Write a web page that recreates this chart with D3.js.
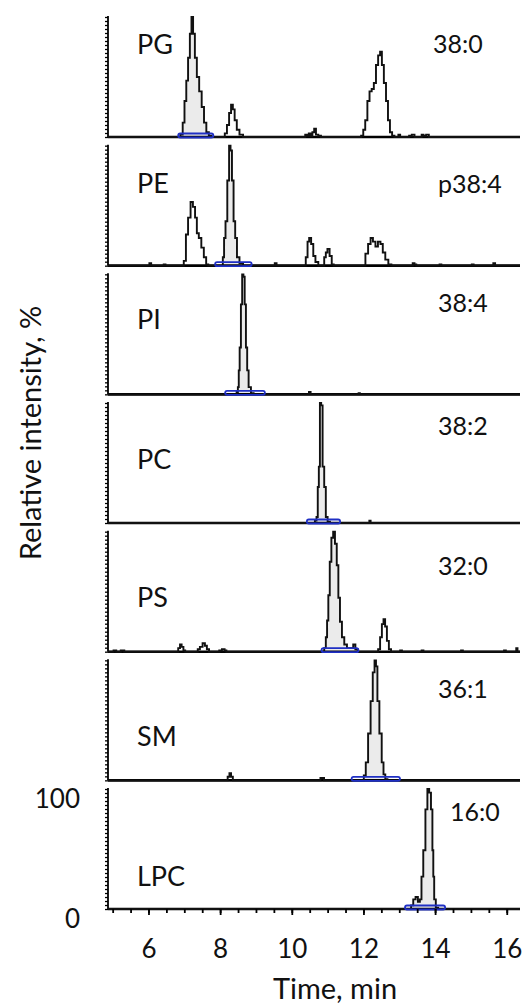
<!DOCTYPE html>
<html>
<head>
<meta charset="utf-8">
<script src="https://cdn.jsdelivr.net/npm/d3@7"></script>
<style>
  html, body { margin: 0; padding: 0; background: #fff; }
  svg { display: block; font-family: "Lato", "Open Sans", sans-serif; }
</style>
</head>
<body>
<svg id="chart"></svg>
<script>
// lipid classes and the molecular species shown in each panel
const classes = ["PG", "PE", "PI", "PC", "PS", "SM", "LPC"];
const species = ["38:0", "p38:4", "38:4", "38:2", "32:0", "36:1", "16:0"];
const xTicks = [6, 8, 10, 12, 14, 16];
const yTickLabels = [0, 100];

// integration windows (min), drawn as blue bars + grey fill
const integration = [
    [6.83, 7.81], [7.86, 8.88], [8.14, 9.25], [10.42, 11.35],
    [10.83, 11.86], [11.67, 13.02], [13.16, 14.28]
];

// [time, relative intensity %]
const tracePG = [
    [6.85,0],[6.93,2],[6.98,12],[7.03,30],[7.08,47],[7.13,66],[7.18,86],[7.22,100],[7.27,86],[7.32,66],[7.38,50],[7.45,38],[7.52,25],[7.58,12],[7.65,4],[7.72,1],[7.8,0],
    [8.1,0],[8.16,3],[8.22,10],[8.28,20],[8.33,27],[8.38,23],[8.43,14],[8.5,6],[8.58,2],[8.7,0],
    [10.35,0],[10.4,2],[10.45,1],[10.5,3],[10.55,1],[10.6,4],[10.65,7],[10.7,2],[10.78,1],[10.85,0],
    [11.9,0],[11.97,1],[12.02,6],[12.08,14],[12.14,30],[12.2,38],[12.26,40],[12.32,45],[12.38,60],[12.44,68],[12.49,71],[12.54,60],[12.6,45],[12.66,30],[12.71,14],[12.77,4],[12.83,1],[12.9,0],
    [12.95,0],[13.0,2],[13.05,0],[13.25,0],[13.3,1],[13.4,2],[13.45,0],[13.6,0],[13.65,2],[13.7,1],[13.8,2],[13.85,0]
];
const tracePE = [
    [6.0,0],[6.05,2],[6.1,0],[6.4,0],[6.45,1],[6.5,0],
    [6.95,0],[7.02,4],[7.07,26],[7.14,40],[7.21,53],[7.27,49],[7.33,40],[7.37,27],[7.44,23],[7.51,15],[7.58,7],[7.64,1],[7.7,0],
    [8.06,0],[8.09,7],[8.13,23],[8.17,37],[8.23,71],[8.27,100],[8.31,96],[8.35,71],[8.4,37],[8.44,23],[8.5,7],[8.58,2],[8.7,0],
    [9.5,0],[9.55,2],[9.6,0],
    [10.36,0],[10.42,7],[10.46,20],[10.51,23],[10.57,18],[10.63,8],[10.69,3],[10.79,0],
    [10.88,0],[10.93,7],[10.97,11],[11.02,14],[11.09,8],[11.14,1],[11.2,0],
    [12.02,0],[12.09,10],[12.17,18],[12.23,23],[12.3,20],[12.37,16],[12.44,20],[12.51,18],[12.57,11],[12.65,5],[12.74,1],[12.82,0],
    [13.35,0],[13.4,2],[13.45,1],[13.5,0],[14.1,0],[14.15,1],[14.2,0],[15.0,0],[15.05,1],[15.1,0],[15.6,0],[15.65,2],[15.7,0]
];
const tracePI = [
    [8.44,0],[8.48,2],[8.51,6],[8.53,20],[8.56,39],[8.6,75],[8.63,100],[8.67,98],[8.7,75],[8.74,39],[8.77,20],[8.82,6],[8.9,1],[8.97,0],
    [10.46,0],[10.5,2],[10.55,0],[11.85,0],[11.88,1],[11.92,0]
];
const tracePC = [
    [10.62,0],[10.67,2],[10.71,5],[10.74,30],[10.77,47],[10.8,100],[10.84,98],[10.88,47],[10.93,30],[10.97,5],[11.03,1],[11.1,0],
    [12.15,0],[12.18,2],[12.22,0]
];
const tracePS = [
    [5.0,0],[5.05,1],[5.15,0],[5.3,1],[5.35,0],
    [6.8,0],[6.86,3],[6.9,6],[6.95,4],[7.0,1],[7.05,0],
    [7.35,0],[7.4,2],[7.47,4],[7.55,7],[7.6,5],[7.66,2],[7.72,0],
    [7.95,0],[8.0,1],[8.1,2],[8.15,1],[8.2,0],
    [10.88,0],[10.93,3],[10.97,12],[11.0,26],[11.04,47],[11.08,75],[11.13,95],[11.18,100],[11.23,90],[11.28,72],[11.32,45],[11.37,25],[11.43,12],[11.5,6],[11.58,3],[11.68,3],[11.75,6],[11.8,2],[11.88,0],
    [12.38,0],[12.44,2],[12.49,12],[12.54,23],[12.58,27],[12.63,21],[12.68,9],[12.74,2],[12.8,0],
    [13.0,0],[13.05,1],[13.1,0],[13.6,0],[13.65,1],[13.7,0],[14.7,0],[14.75,1],[14.8,0],[15.9,0],[15.95,1],[16.0,0],[16.25,0],[16.28,3],[16.32,0]
];
const traceSM = [
    [8.18,0],[8.24,3],[8.28,6],[8.33,3],[8.38,0],
    [10.78,0],[10.82,2],[10.88,2],[10.92,0],
    [11.98,0],[12.04,4],[12.09,15],[12.17,39],[12.23,66],[12.29,90],[12.33,100],[12.37,95],[12.41,66],[12.48,39],[12.54,15],[12.58,5],[12.64,1],[12.7,0]
];
const traceLPC = [
    [13.3,0],[13.36,3],[13.42,8],[13.49,10],[13.55,6],[13.6,8],[13.64,27],[13.7,49],[13.76,83],[13.81,100],[13.86,97],[13.91,83],[13.94,49],[13.96,27],[13.99,8],[14.05,1],[14.12,0]
];
const traces = [tracePG, tracePE, tracePI, tracePC, tracePS, traceSM, traceLPC];

// ---- layout ----
const width = 525, height = 1006;
const firstBase = 137, panelStep = 128.67, plotH = 120;
// label offsets relative to each panel baseline
const labelLayout = [
    { nameDy: -94, specDy: -94, specX: 433 },
    { nameDy: -83, specDy: -83, specX: 438 },
    { nameDy: -76, specDy: -92, specX: 438 },
    { nameDy: -65, specDy: -98, specX: 438 },
    { nameDy: -55, specDy: -87, specX: 438 },
    { nameDy: -45, specDy: -92, specX: 438 },
    { nameDy: -34, specDy: -98, specX: 450 }
];

const svg = d3.select("#chart").attr("width", width).attr("height", height);
svg.append("rect").attr("width", width).attr("height", height).attr("fill", "#fff");

const x = d3.scaleLinear().domain([4.87, 16.37]).range([108, 520]);
const [t0, t1] = x.domain();

traces.forEach((trace, i) => {
    const base = firstBase + i * panelStep;
    const y = d3.scaleLinear().domain([0, 100]).range([base, base - plotH]);
    const g = svg.append("g").attr("class", "panel");
    const pts = [[t0, 0], ...trace, [t1, 0]];

    const line = d3.line().x(d => x(d[0])).y(d => y(d[1])).curve(d3.curveStep);
    const area = d3.area().x(d => x(d[0])).y0(y(0)).y1(d => y(d[1])).curve(d3.curveStep);

    // grey fill of the integrated peak
    const clipId = "clip" + i;
    const [a, b] = integration[i];
    svg.append("clipPath").attr("id", clipId)
        .append("rect")
        .attr("x", x(a)).attr("width", x(b) - x(a))
        .attr("y", y(100) - 10).attr("height", plotH + 10);
    g.append("path").datum(pts)
        .attr("clip-path", `url(#${clipId})`)
        .attr("fill", "#ebebeb")
        .attr("d", area);

    // y axis with dense minor ticks
    const yAxis = d3.axisLeft(y)
        .tickValues(d3.range(0, 100.01, 100 / 30))
        .tickSize(3).tickSizeOuter(0).tickFormat("");
    const ya = g.append("g").attr("transform", `translate(${x.range()[0]},0)`).call(yAxis);
    ya.select(".domain").attr("stroke-width", 1.8).attr("d", `M0,${base - plotH - 1}V${base}`);
    ya.selectAll(".tick line").attr("stroke-width", 1.3);

    // baseline
    g.append("line")
        .attr("x1", x.range()[0]).attr("x2", x.range()[1])
        .attr("y1", base).attr("y2", base)
        .attr("stroke", "#000").attr("stroke-width", 2.6);

    // chromatogram trace
    g.append("path").datum(pts)
        .attr("fill", "none")
        .attr("stroke", "#111")
        .attr("stroke-width", 1.9)
        .attr("d", line);

    // integration bar
    g.append("rect")
        .attr("x", x(a)).attr("y", base - 3.5)
        .attr("width", x(b) - x(a)).attr("height", 4)
        .attr("rx", 2)
        .attr("fill", "none")
        .attr("stroke", "#1f2fc4")
        .attr("stroke-width", 1.8);

    // labels
    const lay = labelLayout[i];
    g.append("text")
        .attr("x", 137).attr("y", base + lay.nameDy)
        .attr("dominant-baseline", "central")
        .attr("font-size", 27).attr("fill", "#111")
        .text(classes[i]);
    g.append("text")
        .attr("x", lay.specX).attr("y", base + lay.specDy)
        .attr("dominant-baseline", "central")
        .attr("font-size", 25).attr("fill", "#111")
        .text(species[i]);

    // bottom panel gets the numbered axes
    if (i === traces.length - 1) {
        const minor = d3.axisBottom(x)
            .tickValues(d3.range(5, 16.01, 0.5))
            .tickSize(4).tickSizeOuter(0).tickFormat("");
        const xm = g.append("g").attr("transform", `translate(0,${base})`).call(minor);
        xm.select(".domain").remove();
        xm.selectAll(".tick line").attr("stroke-width", 1.8);

        const major = d3.axisBottom(x)
            .tickValues(xTicks)
            .tickSize(6).tickSizeOuter(0).tickPadding(25);
        const xM = g.append("g").attr("transform", `translate(0,${base})`).call(major);
        xM.select(".domain").remove();
        xM.selectAll(".tick line").attr("stroke-width", 1.8);
        xM.selectAll("text").attr("font-size", 26).attr("fill", "#111")
            .attr("font-family", "Lato, sans-serif");

        const yl = d3.axisLeft(y).tickValues(yTickLabels).tickSize(0).tickPadding(28);
        const yg = g.append("g").attr("transform", `translate(${x.range()[0]},10)`).call(yl);
        yg.select(".domain").remove();
        yg.selectAll("text").attr("font-size", 26).attr("fill", "#111")
            .attr("font-family", "Lato, sans-serif");
    }
});

// axis titles
svg.append("text")
    .attr("x", 335).attr("y", 999)
    .attr("text-anchor", "middle")
    .attr("font-size", 29).attr("fill", "#111")
    .text("Time, min");

svg.append("text")
    .attr("transform", "translate(41,433) rotate(-90)")
    .attr("text-anchor", "middle")
    .attr("font-size", 29).attr("fill", "#111")
    .text("Relative intensity, %");
</script>
</body>
</html>
